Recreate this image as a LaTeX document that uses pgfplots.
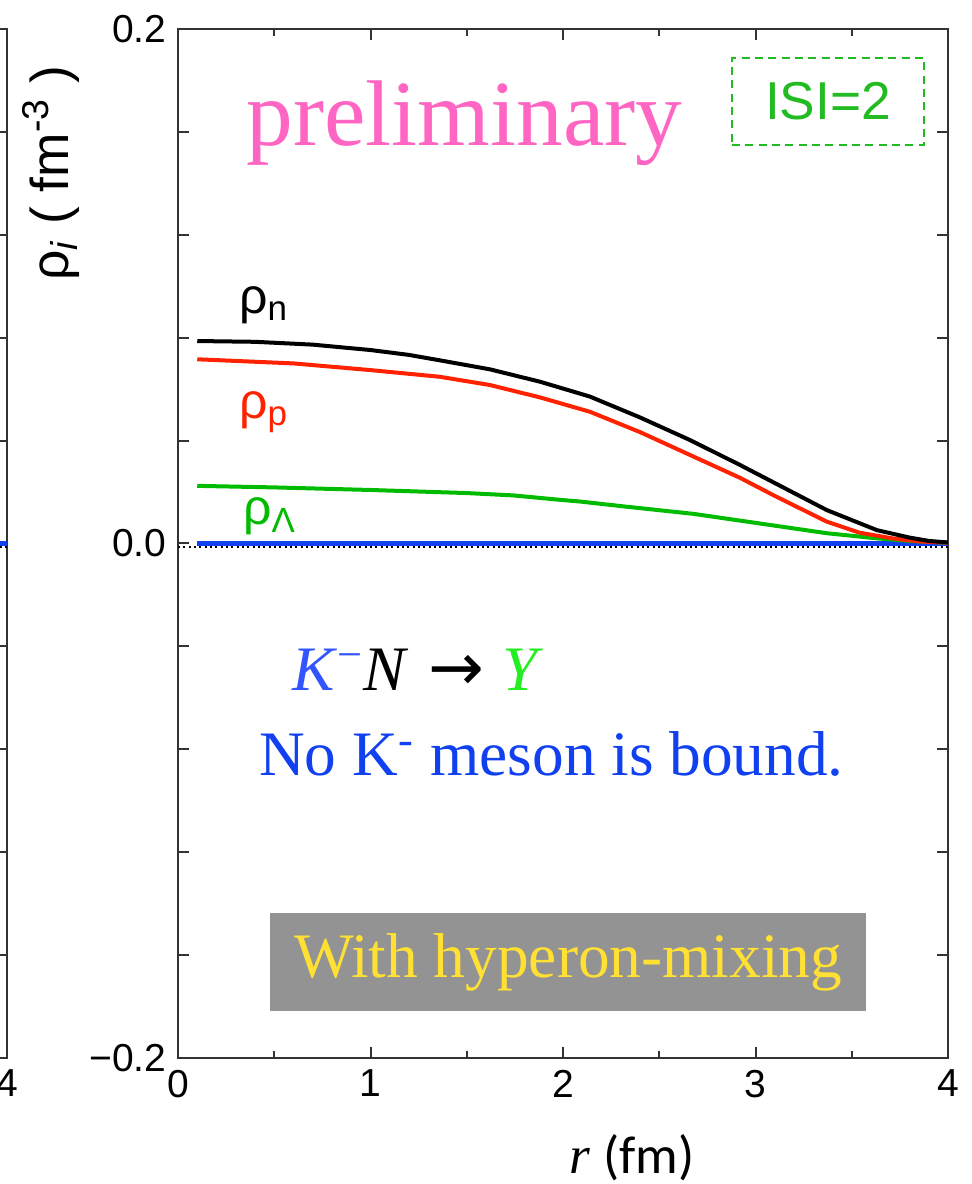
\documentclass[border=0pt]{standalone}
\usepackage{fontspec}
\setmainfont{Liberation Serif}
\setsansfont{Liberation Sans}
\newfontfamily\carlito{Carlito}
\newfontfamily\dejavu{DejaVu Sans}
\usepackage{pgfplots}
\pgfplotsset{compat=1.18}
\definecolor{cred}{HTML}{FF2200}
\definecolor{cgreen}{HTML}{00BB00}
\definecolor{cblue}{HTML}{1040F0}
\definecolor{cpink}{HTML}{FF66C4}
\definecolor{cyellow}{HTML}{FFE033}
\definecolor{cgray}{HTML}{939393}
\definecolor{isigreen}{HTML}{22BB22}
\definecolor{kblue}{HTML}{3355FF}
\definecolor{ygreen}{HTML}{22EE22}
\pgfplotsset{
  common/.style={
    scale only axis, width=231pt, height=308.7pt,
    xmin=0, xmax=4, ymin=-0.2, ymax=0.2,
    axis line style={draw=black!80, line width=0.8pt},
    tick style={black!80, line width=0.6pt},
    tick align=inside,
    major tick length=3.3pt, minor tick length=2pt,
    xtick={0,1,2,3,4}, minor xtick={0.5,1.5,2.5,3.5},
    ytick={-0.2,-0.16,-0.12,-0.08,-0.04,0,0.04,0.08,0.12,0.16,0.2},
    ticklabel style={font=\sffamily\fontsize{11.7}{14}\selectfont},
    clip=false,
  }
}
\begin{document}
\begin{tikzpicture}[x=1pt,y=1pt]
\path[use as bounding box] (0,0) rectangle (291.3,355.2);
% partial left panel
\begin{axis}[common, at={(2.1pt,37.8pt)}, anchor=south east,
  xticklabels={,,,,4}, yticklabels={}]
\addplot[black, densely dotted, line width=0.6pt, yshift=-1.2pt] coordinates {(0,0) (4,0)};
\addplot[cblue, line width=1.5pt] coordinates {(0,0) (4,0)};
\end{axis}
% main panel
\begin{axis}[common, at={(53.4pt,37.8pt)}, anchor=south west,
  xticklabels={0,1,2,3,4},
  yticklabels={−0.2,,,,,0.0,,,,,0.2}]
\addplot[black, densely dotted, line width=0.6pt, yshift=-1.2pt] coordinates {(0,0) (4,0)};
\addplot[cblue, line width=1.5pt] coordinates {(0.1,0) (4,0)};
\addplot[cgreen, line width=1.2pt] coordinates {
(0.1,0.0224) (0.5,0.0218) (1.0,0.0208) (1.5,0.0196) (1.74,0.0187) (1.98,0.0170)
(2.09,0.0163) (2.33,0.0143) (2.68,0.0115) (3.02,0.0078) (3.37,0.0040)
(3.63,0.0020) (3.80,0.0010) (4.0,0.0003)};
\addplot[cred, line width=1.2pt] coordinates {
(0.1,0.0716) (0.6,0.0700) (1.0,0.0674) (1.36,0.0648) (1.62,0.0616) (1.88,0.0568)
(2.14,0.0512) (2.40,0.0433) (2.66,0.0344) (2.92,0.0255) (3.10,0.0185)
(3.37,0.0085) (3.54,0.0042) (3.71,0.0020) (3.85,0.0008) (4.0,0.0003)};
\addplot[black, line width=1.2pt] coordinates {
(0.1,0.0787) (0.4,0.0784) (0.7,0.0773) (1.0,0.0752) (1.2,0.0733) (1.36,0.0712)
(1.62,0.0677) (1.88,0.0629) (2.14,0.0571) (2.40,0.0490) (2.66,0.0402)
(2.92,0.0305) (3.10,0.0235) (3.37,0.0130) (3.63,0.0052) (3.80,0.0023)
(3.90,0.0010) (4.0,0.0004)};
% annotations
\node[anchor=base, text=cpink, font=\fontsize{28}{30}\selectfont, inner sep=0pt]
  at (axis cs:1.488,0.1549) {preliminary};
\node[draw=isigreen, dash pattern=on 2.4pt off 1.6pt, line width=0.6pt,
  minimum width=57.6pt, minimum height=26.1pt, inner sep=0pt, text=isigreen,
  font=\sffamily\fontsize{16}{18}\selectfont] at (axis cs:3.377,0.1718) {ISI=2};
\node[font=\sffamily\fontsize{15}{17}\selectfont, text=black] at (axis cs:0.447,0.0927) {ρ\textsubscript{n}};
\node[font=\sffamily\fontsize{15}{17}\selectfont, text=cred] at (axis cs:0.447,0.0511) {ρ\textsubscript{p}};
\node[font=\sffamily\fontsize{15}{17}\selectfont, text=cgreen] at (axis cs:0.478,0.0105) {ρ\textsubscript{Λ}};
\node[anchor=base, font=\fontsize{19}{22}\selectfont, inner sep=0pt]
  at (axis cs:1.247,-0.0570) {\textcolor{kblue}{\textit{K}\textsuperscript{−}}\textit{N}\hspace{0.3em}{\dejavu\fontsize{20}{22}\selectfont →}\hspace{0.3em}\textcolor{ygreen}{\textit{Y}}};
\node[anchor=base, font=\fontsize{19}{22}\selectfont, text=cblue, inner sep=0pt]
  at (axis cs:1.940,-0.0900) {No K\textsuperscript{-} meson is bound.};
\node[fill=cgray, minimum width=178.8pt, minimum height=29.4pt, inner sep=0pt,
  text=cyellow, font=\fontsize{19}{22}\selectfont] at (axis cs:2.026,-0.1627) {With hyperon-mixing};
\end{axis}
\node[rotate=90, font=\sffamily\fontsize{16}{18}\selectfont] at (15.3,303.3)
  {ρ\textsubscript{\textit{i}} ( fm\textsuperscript{-3} )};
\node[font=\fontsize{16}{18}\selectfont] at (189.6,7.8) {\textit{r} {\carlito (fm)}};
\end{tikzpicture}
\end{document}
